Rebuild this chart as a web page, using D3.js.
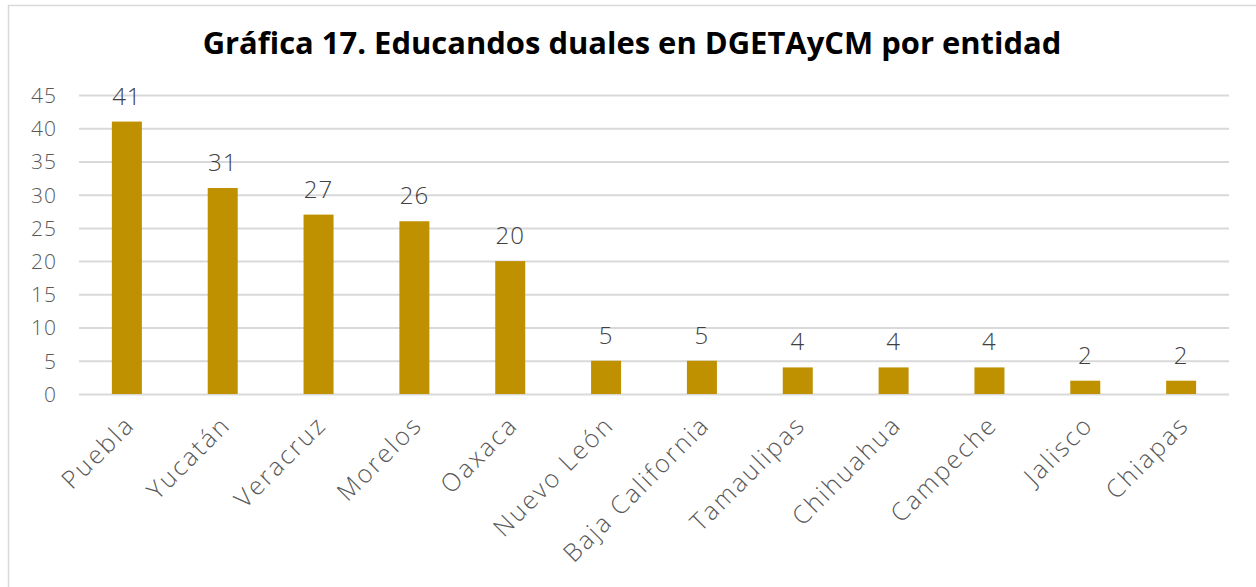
<!DOCTYPE html>
<meta charset="utf-8">
<html>
<head>
    <title>Gráfica 17</title>
    <script src="https://cdn.jsdelivr.net/npm/d3@7"></script>
    <style>
        html, body { margin: 0; padding: 0; background: #fff; }
        text { font-family: "Open Sans", sans-serif; }
    </style>
</head>
<body>
<svg id="svg"></svg>
<script>
    // datos
    var entidades = ["Puebla", "Yucatán", "Veracruz", "Morelos", "Oaxaca", "Nuevo León",
        "Baja California", "Tamaulipas", "Chihuahua", "Campeche", "Jalisco", "Chiapas"]
    var educandos = [41, 31, 27, 26, 20, 5, 5, 4, 4, 4, 2, 2]
    var ticks = [0, 5, 10, 15, 20, 25, 30, 35, 40, 45]

    var width = 1256, height = 587
    var svg = d3.select('#svg').attr('width', width).attr('height', height)

    // marco
    svg.append('rect')
        .attr('x', 8.5).attr('y', 5.5)
        .attr('width', 1260).attr('height', 600)
        .attr('fill', 'none').attr('stroke', '#d9d9d9').attr('stroke-width', 1.5)

    var mLeft = 79, mRight = 1229, mTop = 95, mBottom = 394

    var x = d3.scaleBand().domain(entidades).range([mLeft, mRight]).paddingInner(0.687).paddingOuter(0.343)
    var y = d3.scaleLinear().domain([0, 45]).range([mBottom, mTop])

    // titulo
    var title = svg.append('text')
        .attr('x', 632).attr('y', 54)
        .attr('text-anchor', 'middle')
        .attr('font-weight', 'bold').attr('font-size', 26).attr('fill', '#000')
        .text('Gráfica 17. Educandos duales en DGETAyCM por entidad')
    var tl = title.node().getComputedTextLength()
    title.attr('font-size', 26 * 859 / tl)

    // rejilla
    var yAxis = d3.axisLeft(y).tickValues(ticks).tickSize(-(mRight - mLeft)).tickPadding(22)
    var gy = svg.append('g').attr('transform', 'translate(' + mLeft + ',0)').call(yAxis)
    gy.select('.domain').remove()
    gy.selectAll('.tick line').attr('stroke', '#d9d9d9').attr('stroke-width', 2)
    gy.selectAll('.tick text').attr('font-size', 21).attr('fill', '#595959')
        .attr('letter-spacing', 1)
        .attr('font-weight', 300).attr('dy', '0.35em')

    // barras
    svg.append('g').selectAll('rect').data(educandos).enter().append('rect')
        .attr('x', function (d, i) { return x(entidades[i]) })
        .attr('width', x.bandwidth())
        .attr('y', function (d) { return y(d) })
        .attr('height', function (d) { return y(0) - y(d) })
        .attr('fill', '#bf9000')

    // etiquetas de valor
    svg.append('g').selectAll('text').data(educandos).enter().append('text')
        .attr('x', function (d, i) { return x(entidades[i]) + x.bandwidth() / 2 })
        .attr('y', function (d) { return y(d) - 17 })
        .attr('text-anchor', 'middle')
        .attr('font-size', 24).attr('font-weight', 300).attr('fill', '#404040')
        .attr('letter-spacing', 1)
        .text(function (d) { return d })

    // etiquetas de categoria
    var xAxis = d3.axisBottom(x).tickSize(0).tickPadding(0)
    var gx = svg.append('g').attr('transform', 'translate(0,' + mBottom + ')').call(xAxis)
    gx.select('.domain').remove()
    gx.selectAll('.tick text')
        .attr('font-size', 25).attr('font-weight', 300).attr('fill', '#595959')
        .attr('letter-spacing', 2.3)
        .attr('text-anchor', 'end')
        .attr('transform', 'translate(-3,20) rotate(-45)')
        .attr('dy', '0.7em')
</script>
</body>
</html>
